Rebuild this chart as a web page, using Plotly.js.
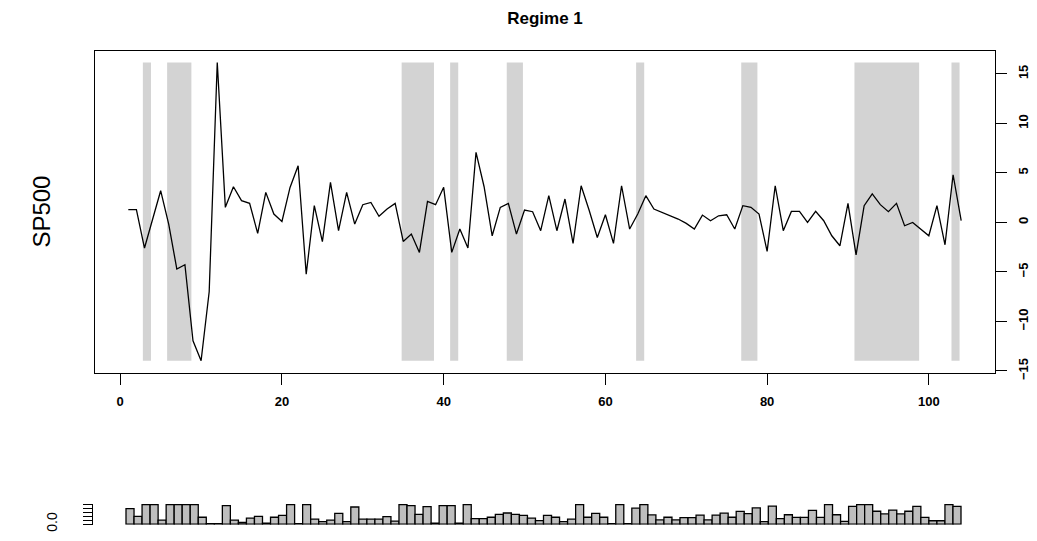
<!DOCTYPE html>
<html><head><meta charset="utf-8">
<script src="https://cdn.plot.ly/plotly-3.0.1.min.js"></script>
<style>html,body{margin:0;padding:0;background:#fff}#chart{width:1037px;height:541px}</style>
</head><body><div id="chart"></div>
<script>
// SP500 returns, t = 1..104
const sp500 = [
  1.28, 1.28, -2.59, 0.34, 3.2, -0.2, -4.71, -4.27, -11.95, -13.97,
  -7.0, 16.15, 1.52, 3.6, 2.19, 1.92, -1.11, 3.03, 0.84, 0.1,
  3.53, 5.72, -5.22, 1.69, -1.95, 4.04, -0.84, 3.04, -0.17, 1.79,
  2.02, 0.61, 1.35, 1.92, -1.92, -1.18, -3.03, 2.12, 1.79, 3.54,
  -3.03, -0.67, -2.59, 7.07, 3.6, -1.35, 1.52, 1.92, -1.18, 1.25,
  1.08, -0.84, 2.7, -0.84, 2.36, -2.12, 3.7, 1.2, -1.52, 0.77,
  -2.12, 3.7, -0.67, 0.84, 2.7, 1.35, 1.01, 0.67, 0.34, -0.1,
  -0.67, 0.74, 0.17, 0.67, 0.77, -0.67, 1.69, 1.52, 0.84, -2.93,
  3.7, -0.84, 1.11, 1.11, 0.0, 1.11, 0.17, -1.35, -2.36, 1.92,
  -3.27, 1.69, 2.87, 1.79, 1.08, 1.92, -0.34, 0.0, -0.67, -1.35,
  1.69, -2.26, 4.81, 0.17
];
// time points classified in Regime 1 (shaded)
const regimeShaded = [3, 6, 7, 8, 35, 36, 37, 38, 41, 48, 49, 64, 77, 78,
  91, 92, 93, 94, 95, 96, 97, 98, 103];
// probabilities (bottom strip)
const probs = [
  0.8, 0.4, 1.0, 1.0, 0.2, 1.0, 1.0, 1.0, 1.0, 0.35,
  0.02, 0.02, 0.95, 0.2, 0.08, 0.3, 0.4, 0.05, 0.35, 0.45,
  1.0, 0.02, 1.0, 0.25, 0.12, 0.2, 0.55, 0.12, 0.88, 0.25,
  0.25, 0.25, 0.38, 0.15, 1.0, 0.95, 0.5, 0.9, 0.05, 0.95,
  0.95, 0.05, 1.0, 0.28, 0.28, 0.35, 0.5, 0.57, 0.5, 0.45,
  0.3, 0.18, 0.45, 0.35, 0.12, 0.25, 1.0, 0.35, 0.55, 0.35,
  0.02, 1.0, 0.02, 0.82, 1.0, 0.47, 0.21, 0.35, 0.21, 0.33,
  0.33, 0.46, 0.21, 0.46, 0.56, 0.35, 0.65, 0.54, 0.83, 0.12,
  0.93, 0.28, 0.48, 0.34, 0.34, 0.71, 0.34, 1.0, 0.48, 0.14,
  0.91, 1.0, 1.0, 0.66, 0.52, 0.72, 0.52, 0.66, 0.91, 0.34,
  0.17, 0.17, 1.0, 0.91
];
const xTicks = [0, 20, 40, 60, 80, 100];
const yTicks = [-15, -10, -5, 0, 5, 10, 15];
const probTicks = [0, 0.2, 0.4, 0.6, 0.8, 1.0];
const probTickText = ['0.0', '', '', '', '', ''];
const titleText = 'Regime 1';
const yLabel = 'SP500';

const W = 1037, H = 541;
const t = sp500.map((_, i) => i + 1);
const lo = Math.min(...sp500), hi = Math.max(...sp500);
const pad = 0.04 * (hi - lo);
const xr = [1 - 0.04 * 103, 104 + 0.04 * 103];
const nb = probs.length;
const xr2 = [0 - 0.04 * nb, nb + 0.04 * nb];

// merge shaded indices into runs
const runs = [];
regimeShaded.forEach(i => {
  const last = runs[runs.length - 1];
  if (last && last[1] === i - 1) last[1] = i; else runs.push([i, i]);
});
const shapes = runs.map(r => ({
  type: 'rect', xref: 'x', yref: 'y', layer: 'below',
  x0: r[0] - 0.2, x1: r[1] + 0.8, y0: lo, y1: hi,
  fillcolor: '#d3d3d3', line: {width: 0}
}));

const F = 'Liberation Sans, Arial, sans-serif';
const boldTick = {family: F, size: 13, color: '#000', weight: 'bold'};

const traces = [
  {x: t, y: sp500, type: 'scatter', mode: 'lines', xaxis: 'x', yaxis: 'y',
   line: {color: '#000', width: 1.3}, hoverinfo: 'skip'},
  {x: probs.map((_, i) => i + 0.5), y: probs, type: 'bar', width: 1,
   xaxis: 'x2', yaxis: 'y2',
   marker: {color: '#bebebe', line: {color: '#000', width: 1.3}}, hoverinfo: 'skip'}
];

const px = v => v / W, py = v => 1 - v / H;

const layout = {
  width: W, height: H, margin: {l: 0, r: 0, t: 0, b: 0},
  paper_bgcolor: '#fff', plot_bgcolor: '#fff', showlegend: false,
  title: {text: titleText, x: px(545), xanchor: 'center', y: py(18), yanchor: 'middle',
          font: {family: F, size: 17, color: '#000', weight: 'bold'}},
  xaxis: {domain: [px(95), px(994.5)], range: xr, tickvals: xTicks, ticks: 'outside',
          ticklen: 11, tickcolor: '#000', showline: true, mirror: true, linecolor: '#000',
          linewidth: 1, showgrid: false, zeroline: false, tickfont: boldTick,
          ticklabelstandoff: 6, anchor: 'y', fixedrange: true},
  yaxis: {domain: [py(372.7), py(50.5)], range: [lo - pad, hi + pad], side: 'right',
          tickvals: yTicks, ticks: 'outside', ticklen: 11, tickcolor: '#000',
          showline: true, mirror: true, linecolor: '#000', linewidth: 1,
          showgrid: false, zeroline: false, tickfont: boldTick, tickangle: -90,
          ticklabelstandoff: 6, anchor: 'x', fixedrange: true},
  xaxis2: {domain: [px(92.6), px(994.4)], range: xr2, visible: false, anchor: 'y2', fixedrange: true},
  yaxis2: {domain: [py(524.8), py(503.9)], range: [-0.04, 1.04], anchor: 'x2',
           tickvals: probTicks, ticktext: probTickText, ticks: 'outside', ticklen: 9,
           tickcolor: '#000', showline: true, linecolor: '#000', linewidth: 1,
           showgrid: false, zeroline: false, tickangle: -90,
           tickfont: {family: F, size: 14, color: '#000'}, ticklabelstandoff: 20, fixedrange: true},
  shapes: shapes,
  annotations: [{text: yLabel, xref: 'paper', yref: 'paper', x: px(42), y: py(211.6),
                 xanchor: 'center', yanchor: 'middle', textangle: -90, showarrow: false,
                 font: {family: F, size: 24, color: '#000'}}]
};

Plotly.newPlot('chart', traces, layout, {staticPlot: true, displayModeBar: false});
</script>
</body></html>
